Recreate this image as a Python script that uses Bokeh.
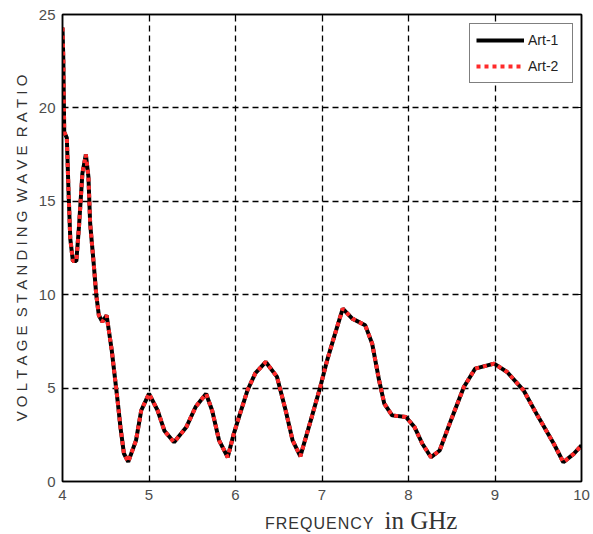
from bokeh.plotting import figure
from bokeh.models import Range1d, FixedTicker, LinearAxis, Legend, LegendItem, Div
from bokeh.layouts import column
from bokeh.embed import file_html
from bokeh.resources import INLINE

# ---- data ----
freq_ghz = [4.00, 4.01, 4.02, 4.05, 4.07, 4.09, 4.12, 4.16, 4.19, 4.23, 4.27, 4.30,
            4.32, 4.36, 4.39, 4.42, 4.46, 4.51, 4.57, 4.62, 4.64, 4.67, 4.71, 4.76,
            4.85, 4.91, 5.00, 5.10, 5.18, 5.29, 5.43, 5.54, 5.66, 5.73, 5.81, 5.91,
            5.98, 6.04, 6.14, 6.23, 6.35, 6.48, 6.58, 6.66, 6.75, 6.87, 6.98, 7.06,
            7.14, 7.24, 7.35, 7.50, 7.58, 7.66, 7.72, 7.81, 7.97, 8.07, 8.16, 8.26,
            8.36, 8.49, 8.64, 8.77, 8.99, 9.14, 9.33, 9.49, 9.68, 9.79, 9.91, 10.00]
vswr_art1 = [24.3, 22.5, 18.7, 18.4, 15.5, 13.0, 11.8, 11.8, 13.6, 16.5, 17.5, 16.3,
             13.8, 11.7, 10.0, 8.9, 8.55, 8.9, 7.0, 5.0, 4.2, 2.9, 1.5, 1.05,
             2.2, 3.8, 4.7, 3.8, 2.7, 2.1, 2.9, 4.0, 4.7, 3.8, 2.2, 1.3,
             2.55, 3.45, 4.9, 5.8, 6.4, 5.6, 3.8, 2.2, 1.35, 3.27, 5.06, 6.5,
             7.74, 9.26, 8.72, 8.36, 7.38, 5.42, 4.17, 3.54, 3.45, 2.91, 2.02, 1.3,
             1.66, 3.27, 5.06, 6.04, 6.31, 5.86, 4.88, 3.54, 2.02, 1.03, 1.48, 1.93]
vswr_art2 = [24.3, 22.5, 18.7, 18.4, 15.5, 13.0, 11.8, 11.8, 13.6, 16.5, 17.5, 16.3,
             13.8, 11.7, 10.0, 8.9, 8.55, 8.9, 7.0, 5.0, 4.2, 2.9, 1.5, 1.05,
             2.2, 3.8, 4.7, 3.8, 2.7, 2.1, 2.9, 4.0, 4.7, 3.8, 2.2, 1.3,
             2.55, 3.45, 4.9, 5.8, 6.4, 5.6, 3.8, 2.2, 1.35, 3.27, 5.06, 6.5,
             7.74, 9.26, 8.72, 8.36, 7.38, 5.42, 4.17, 3.54, 3.45, 2.91, 2.02, 1.3,
             1.66, 3.27, 5.06, 6.04, 6.31, 5.86, 4.88, 3.54, 2.02, 1.03, 1.48, 1.93]
series_names = ["Art-1", "Art-2"]
x_ticks = [4, 5, 6, 7, 8, 9, 10]
y_ticks = [0, 5, 10, 15, 20, 25]
x_label_words = ["FREQUENCY", "in GHz"]
y_label_text = "VOLTAGE STANDING WAVE RATIO"

NB = "\u00a0"
words = y_label_text.split(" ")
y_label_spaced = (NB * 2).join(NB.join(w) for w in words)

p = figure(width=593, height=510, output_backend="svg", toolbar_location=None,
           x_range=Range1d(4, 10), y_range=Range1d(0, 25),
           min_border_left=62, min_border_right=12, min_border_top=14, min_border_bottom=29)
p.background_fill_color = "white"
p.border_fill_color = "white"
p.outline_line_color = "black"
p.outline_line_width = 1.5

tick_color = "#4d4d4d"
for ax in (p.xaxis[0], p.yaxis[0]):
    ax.major_tick_in = 5
    ax.major_tick_out = 0
    ax.minor_tick_line_color = None
    ax.axis_line_color = "black"
    ax.axis_line_width = 1.5
    ax.major_tick_line_color = "black"
    ax.major_label_text_font = "Liberation Sans"
    ax.major_label_text_font_size = "15px"
    ax.major_label_text_color = tick_color
p.xaxis.ticker = FixedTicker(ticks=x_ticks)
p.yaxis.ticker = FixedTicker(ticks=y_ticks)
p.xaxis.major_label_standoff = 8
p.yaxis.major_label_standoff = 7

p.yaxis.axis_label = y_label_spaced
p.yaxis.axis_label_text_font = "Liberation Sans"
p.yaxis.axis_label_text_font_size = "15px"
p.yaxis.axis_label_text_font_style = "normal"
p.yaxis.axis_label_text_color = "#333333"
p.yaxis.axis_label_standoff = 6

# mirror axes (top and right) with inward ticks and no labels
for loc, tk in (("above", x_ticks), ("right", y_ticks)):
    a = LinearAxis(ticker=FixedTicker(ticks=tk), major_tick_in=5, major_tick_out=0,
                   minor_tick_line_color=None, major_label_text_font_size="0px",
                   major_label_text_color=None,
                   major_label_standoff=0, axis_line_color="black", axis_line_width=1.5)
    p.add_layout(a, loc)

p.grid.grid_line_color = "black"
p.grid.grid_line_dash = "6 4"
p.grid.grid_line_width = 1.3
p.xgrid.ticker = FixedTicker(ticks=x_ticks)
p.ygrid.ticker = FixedTicker(ticks=y_ticks)

r1 = p.line(freq_ghz, vswr_art1, line_color="black", line_width=4)
r2 = p.line(freq_ghz, vswr_art2, line_color="#ff2a2a", line_width=4, line_dash="4 4")

legend = Legend(items=[LegendItem(label=series_names[0], renderers=[r1]),
                       LegendItem(label=series_names[1], renderers=[r2])],
                location=(407, 398), margin=0, padding=6, spacing=6,
                glyph_width=48, glyph_height=20, label_height=20, label_width=38,
                label_standoff=4, label_text_font="Liberation Sans",
                label_text_font_size="14px", label_text_color="#222222",
                border_line_color="black", border_line_width=1.5,
                background_fill_color="white", background_fill_alpha=1.0)
p.add_layout(legend, "center")

xlabel_html = (
    '<div style="width:593px;height:24px;line-height:22px;white-space:nowrap;'
    'padding-left:265px;box-sizing:border-box;color:#333333;">'
    f'<span style="font-family:\'Liberation Sans\';font-size:16px;letter-spacing:1px;">{x_label_words[0]}</span>'
    '<span style="display:inline-block;width:10px;"></span>'
    f'<span style="font-family:\'Liberation Serif\';font-size:25px;">{x_label_words[1]}</span>'
    '</div>'
)
xlabel_div = Div(text=xlabel_html, width=593, height=24, margin=0)

layout = column(p, xlabel_div, spacing=0)
open("out.html", "w").write(file_html(layout, INLINE))
